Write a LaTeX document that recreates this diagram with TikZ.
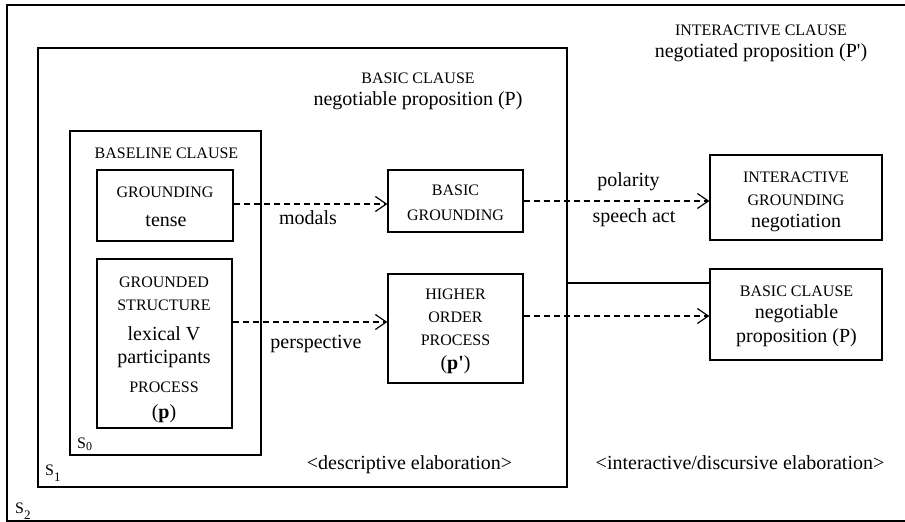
\documentclass[tikz,border=0pt]{standalone}
\usepackage{fontspec}
\setmainfont{Liberation Serif}
\usetikzlibrary{arrows.meta}
\begin{document}
\begin{tikzpicture}[x=1pt,y=-1pt,
  box/.style={draw, line width=1.2pt, inner sep=0pt},
  caps/.style={font=\fontsize{16}{18}\selectfont, text height=11pt, text depth=0pt, inner sep=0pt},
  txt/.style={font=\fontsize{20}{22}\selectfont, text height=10pt, text depth=0pt, inner sep=0pt},
  dasharrow/.style={line width=1.2pt, dash pattern=on 6pt off 4pt,
    -{Straight Barb[length=11pt,width=15pt,line width=1.2pt]}},
  link/.style={line width=2.8pt}
]
\useasboundingbox (0,0) rectangle (905,522);

% outermost level (open on the right)
\draw[line width=1.2pt] (910,5) -- (7,5) -- (7,521) -- (910,521);

% nested clause levels
\node[box, minimum width=529pt, minimum height=439pt] (S1) at (302.5,267.5) {};
\node[box, minimum width=191pt, minimum height=324pt] (S0) at (165.5,293) {};

% inner boxes
\node[box, minimum width=136pt, minimum height=71pt]  (grd) at (165,205.5) {};
\node[box, minimum width=135pt, minimum height=169pt] (gst) at (164.5,343.5) {};
\node[box, minimum width=135pt, minimum height=62pt]  (bgr) at (455.5,201) {};
\node[box, minimum width=135pt, minimum height=109pt] (hop) at (455.5,328.5) {};
\node[box, minimum width=172pt, minimum height=85pt]  (igr) at (796,197.5) {};
\node[box, minimum width=172pt, minimum height=91pt]  (bcl) at (796,314.5) {};

% headings
\node[caps] (ich) at (761,30) {INTERACTIVE CLAUSE};
\node[txt]  (ict) at (761,52) {negotiated proposition (P\textquotesingle)};
\node[caps] (bch) at (418,78) {BASIC CLAUSE};
\node[txt]  (bct) at (418,100) {negotiable proposition (P)};
\node[caps] (blh) at (166.5,153) {BASELINE CLAUSE};

% grounding
\node[caps] (grd1) at (165,192) {GROUNDING};
\node[txt]  (grd2) at (166,221) {tense};

% grounded structure
\node[caps] (gst1) at (164,282) {GROUNDED};
\node[caps] (gst2) at (164,305) {STRUCTURE};
\node[txt]  (gst3) at (164,335) {lexical V};
\node[txt]  (gst4) at (164,358) {participants};
\node[caps] (gst5) at (164,387) {PROCESS};
\node[txt]  (gst6) at (164,413) {(\textbf{p})};

% basic grounding
\node[caps] (bgr1) at (455.5,190) {BASIC};
\node[caps] (bgr2) at (455.5,215) {GROUNDING};

% higher order process
\node[caps] (hop1) at (455.5,294) {HIGHER};
\node[caps] (hop2) at (455.5,317) {ORDER};
\node[caps] (hop3) at (455.5,340) {PROCESS};
\node[txt]  (hop4) at (455.5,364) {(\textbf{p\textquotesingle})};

% interactive grounding
\node[caps] (igr1) at (796,177) {INTERACTIVE};
\node[caps] (igr2) at (796,200) {GROUNDING};
\node[txt]  (igr3) at (796,222) {negotiation};

% basic clause on the right
\node[caps] (bcl1) at (796.5,291) {BASIC CLAUSE};
\node[txt]  (bcl2) at (796.5,313) {negotiable};
\node[txt]  (bcl3) at (796.5,337) {proposition (P)};

% connector labels
\node[txt] (lmod) at (308,219) {modals};
\node[txt] (lpol) at (628.5,181) {polarity};
\node[txt] (lspa) at (634,217) {speech act};
\node[txt] (lper) at (316,343) {perspective};

% elaboration labels
\node[txt] (ldes) at (409.5,464) {<descriptive elaboration>};
\node[txt] (lint) at (740,464) {<interactive/discursive elaboration>};

% level indices
\node[caps, anchor=west] (s0) at (77,443) {S\raisebox{-1.5pt}{\fontsize{12}{12}\selectfont 0}};
\node[caps, anchor=west] (s1) at (45,470) {S\raisebox{-6pt}{\fontsize{13}{13}\selectfont 1}};
\node[caps, anchor=west] (s2) at (15,508) {S\raisebox{-6pt}{\fontsize{13}{13}\selectfont 2}};

% connectors
\draw[dasharrow] (grd.east |- 0,204) -- (bgr.west |- 0,204);
\draw[dasharrow] (bgr.east |- 0,201) -- (igr.west |- 0,201);
\draw[dasharrow] (gst.east |- 0,322) -- (hop.west |- 0,322);
\draw[dasharrow] (hop.east |- 0,316) -- (bcl.west |- 0,316);
\draw[link] (S1.east |- 0,283) -- (bcl.west |- 0,283);
\end{tikzpicture}
\end{document}
